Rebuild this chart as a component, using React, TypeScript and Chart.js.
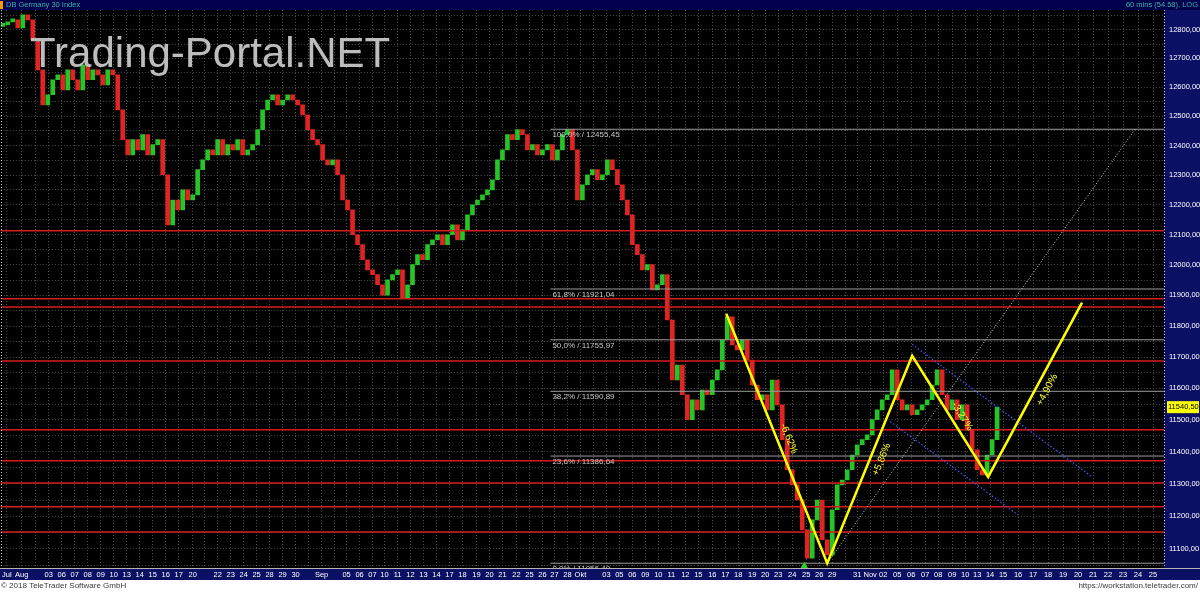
import { useEffect, useRef } from "react";
import { Chart, registerables } from "chart.js";

Chart.register(...registerables);

// DB Germany 30 Index, 60-minute closes (one bar per step), Jul–Nov 2018
const firstOpen = 12812;
const closes: number[] = [
  12818, 12828, 12835, 12807, 12853, 12835, 12765, 12660, 12539, 12574,
  12626, 12643, 12591, 12660, 12626, 12591, 12678, 12626, 12660, 12643,
  12608, 12660, 12643, 12522, 12420, 12368, 12420, 12385, 12437, 12368,
  12403, 12420, 12301, 12133, 12216, 12183, 12250, 12216, 12233, 12318,
  12351, 12385, 12368, 12420, 12368, 12403, 12385, 12420, 12368, 12385,
  12403, 12454, 12522, 12556, 12574, 12539, 12556, 12574, 12556, 12539,
  12505, 12454, 12420, 12403, 12351, 12334, 12351, 12301, 12216, 12183,
  12100, 12067, 12017, 11984, 11968, 11935, 11901, 11951, 11968, 11984,
  11891, 11935, 12001, 12034, 12017, 12067, 12083, 12100, 12067, 12100,
  12133, 12083, 12116, 12166, 12200, 12216, 12233, 12250, 12284, 12351,
  12385, 12437, 12420, 12454, 12437, 12385, 12403, 12368, 12385, 12403,
  12351, 12385, 12437, 12455, 12385, 12216, 12267, 12301, 12318, 12284,
  12301, 12351, 12318, 12267, 12216, 12166, 12067, 12034, 11984, 12001,
  11918, 11935, 11968, 11820, 11627, 11675, 11580, 11501, 11564, 11532,
  11595, 11580, 11627, 11659, 11756, 11830, 11739, 11723, 11756, 11691,
  11611, 11564, 11580, 11532, 11627, 11548, 11438, 11344, 11297, 11250,
  11158, 11072, 11189, 11250, 11128, 11082, 11220, 11297, 11312, 11344,
  11390, 11422, 11438, 11453, 11501, 11532, 11564, 11580, 11659, 11564,
  11532, 11548, 11517, 11532, 11548, 11564, 11611, 11659, 11580, 11532,
  11564, 11501, 11548, 11469, 11406, 11344, 11328, 11390, 11438, 11540.5,
];

// date axis: positions in bar units and their labels
const xTickPos = [
  0.8, 3.8, 6.6, 9.2, 11.8, 14.4, 17.0, 19.6, 22.2, 24.8, 27.4, 30.0, 32.6, 35.2, 38.0,
  40.4, 43.0, 45.6, 48.2, 50.8, 53.4, 56.0, 58.6, 61.2, 63.8, 66.4, 68.8, 71.4, 74.0,
  76.4, 79.0, 81.6, 84.2, 86.8, 89.4, 92.0, 94.8, 97.4, 100.0, 102.8, 105.4, 108.0,
  110.4, 113.0, 115.6, 118.2, 120.8, 123.4, 126.0, 128.6, 131.2, 133.8, 136.6, 139.2,
  142.0, 144.6, 147.2, 150.0, 152.6, 155.2, 158.0, 160.8, 163.4, 166.0, 168.6, 171.0,
  173.6, 176.2, 179.0, 181.8, 184.6, 187.2, 190.0, 192.6, 195.0, 197.6, 200.2, 203.2,
  206.2, 209.2, 212.2, 215.2, 218.2, 221.2, 224.2, 227.2, 230.2,
];
const xTickLabels = [
  "Jul", "Aug", "", "03", "06", "07", "08", "09", "10", "13", "14", "15", "16", "17", "20",
  "", "22", "23", "24", "25", "28", "29", "30", "", "Sep", "", "05", "06", "07",
  "10", "11", "12", "13", "14", "17", "18", "19", "20", "21", "22", "25", "26",
  "27", "28", "Okt", "", "03", "05", "06", "09", "10", "11", "12", "15",
  "16", "17", "18", "19", "20", "23", "24", "25", "26", "29", "", "31",
  "Nov", "02", "05", "06", "07", "08", "09", "10", "13", "14", "15", "16",
  "17", "18", "19", "20", "21", "22", "23", "24", "25",
];

// support / resistance levels
const levelLines = [12113, 11889, 11862, 11688, 11469, 11372, 11303, 11229, 11152];

// Fibonacci retracement of the 12455,45 -> 11056,49 leg
const fibLabels = ["0,0%", "23,6%", "38,2%", "50,0%", "61,8%", "100,0%"];
const fibValues = [11056.49, 11386.64, 11590.89, 11755.97, 11921.04, 12455.45];
const fibStartX = 109.6;

// swing projection
const swingX = [144.8, 165.0, 182.0, 197.2, 216.0];
const swingValues = [11840, 11056.5, 11704.5, 11321.5, 11876.5];

// trend line from the low
const trendX = [165.0, 226.6];
const trendValues = [11056.5, 12455.45];

// falling channel
const channelUpperX = [182.0, 218.0];
const channelUpperValues = [11741, 11322];
const channelLowerX = [177.6, 203.2];
const channelLowerValues = [11495, 11204];

const lowMarkerX = 160.4;
const lowMarkerValue = 11048;

const X_MIN = -0.4;
const X_MAX = 232.4;
const Y_MIN = 11042;
const Y_MAX = 12870;

const FONT = "'Liberation Sans', Arial, sans-serif";
const fmt = (v: number) => v.toFixed(2).replace(".", ",");
const pts = (xs: number[], ys: number[]) => xs.map((x, i) => ({ x, y: ys[i] }));

const opens = closes.map((_, i) => (i === 0 ? firstOpen : closes[i - 1]));

const decor = {
  id: "decor",
  beforeDraw(chart: any) {
    const { ctx, chartArea: a, width, height } = chart;
    ctx.save();
    ctx.fillStyle = "#000000";
    ctx.fillRect(0, 0, width, height);
    ctx.fillStyle = "#0b1064";
    ctx.fillRect(a.right, a.top, width - a.right, a.bottom + 12 - a.top);
    ctx.fillRect(0, a.bottom, a.right, 12);
    ctx.fillStyle = "#00004c";
    ctx.fillRect(0, 0, width, a.top);
    ctx.fillStyle = "#ffffff";
    ctx.fillRect(0, a.bottom + 12, width, height - a.bottom - 12);
    ctx.restore();
  },
  afterDatasetsDraw(chart: any) {
    const { ctx, chartArea: a, scales } = chart;
    const xs = scales.x;
    const ys = scales.y;
    ctx.save();
    ctx.beginPath();
    ctx.rect(a.left, a.top, a.right - a.left, a.bottom - a.top);
    ctx.clip();

    // fibonacci captions
    ctx.font = `8px ${FONT}`;
    ctx.fillStyle = "#c8c8c8";
    ctx.textAlign = "left";
    ctx.textBaseline = "top";
    fibValues.forEach((v, i) => {
      ctx.fillText(`${fibLabels[i]} / ${fmt(v)}`, xs.getPixelForValue(fibStartX) + 2, ys.getPixelForValue(v) + 2);
    });

    // swing percentages along each leg
    ctx.font = `10px ${FONT}`;
    ctx.fillStyle = "#ffff33";
    ctx.textAlign = "center";
    ctx.textBaseline = "middle";
    for (let i = 0; i < swingValues.length - 1; i++) {
      const x0 = xs.getPixelForValue(swingX[i]);
      const y0 = ys.getPixelForValue(swingValues[i]);
      const x1 = xs.getPixelForValue(swingX[i + 1]);
      const y1 = ys.getPixelForValue(swingValues[i + 1]);
      const pct = (swingValues[i + 1] / swingValues[i] - 1) * 100;
      const txt = (pct > 0 ? "+" : "") + pct.toFixed(2).replace(".", ",") + "%";
      ctx.save();
      ctx.translate((x0 + x1) / 2 + 12, (y0 + y1) / 2);
      ctx.rotate(Math.atan2(y1 - y0, x1 - x0));
      ctx.fillText(txt, 0, 0);
      ctx.restore();
    }

    // watermark
    ctx.font = `42px ${FONT}`;
    ctx.fillStyle = "#bdbdbd";
    ctx.textAlign = "left";
    ctx.textBaseline = "alphabetic";
    ctx.fillText("Trading-Portal.NET", 30, 67);
    ctx.restore();
  },
  afterDraw(chart: any) {
    const { ctx, chartArea: a, scales, width } = chart;
    const ys = scales.y;
    ctx.save();

    // frame lines
    ctx.strokeStyle = "#b4b4b4";
    ctx.lineWidth = 1;
    ctx.beginPath();
    ctx.moveTo(0, a.bottom + 0.5);
    ctx.lineTo(width, a.bottom + 0.5);
    ctx.stroke();
    ctx.setLineDash([1, 2]);
    ctx.strokeStyle = "#d0d0d0";
    ctx.beginPath();
    ctx.moveTo(a.right + 0.5, a.top);
    ctx.lineTo(a.right + 0.5, a.bottom);
    ctx.moveTo(1.5, a.top);
    ctx.lineTo(1.5, a.bottom);
    ctx.stroke();
    ctx.setLineDash([]);

    // title bar
    ctx.fillStyle = "#ff9a00";
    ctx.fillRect(0, 1, 3, a.top - 2);
    ctx.font = `7.5px ${FONT}`;
    ctx.fillStyle = "#3cb4ac";
    ctx.textBaseline = "middle";
    ctx.textAlign = "left";
    ctx.fillText("DB Germany 30 Index", 6, a.top / 2);
    ctx.textAlign = "right";
    ctx.fillText("60 mins (54.58), LOG", width - 2, a.top / 2);

    // last price tag
    const last = closes[closes.length - 1];
    const yp = ys.getPixelForValue(last);
    ctx.fillStyle = "#ffff00";
    ctx.fillRect(a.right + 3, yp - 6, width - a.right - 4, 12);
    ctx.fillStyle = "#000000";
    ctx.textAlign = "left";
    ctx.font = `7.5px ${FONT}`;
    ctx.fillText(fmt(last), a.right + 4, yp);

    // footer
    ctx.fillStyle = "#3a3a3a";
    ctx.font = `8px ${FONT}`;
    const fy = a.bottom + 18;
    ctx.textAlign = "left";
    ctx.fillText("© 2018 TeleTrader Software GmbH", 1, fy);
    ctx.textAlign = "right";
    ctx.fillText("https://workstation.teletrader.com/", width - 2, fy);
    ctx.restore();
  },
};

export default function App() {
  const ref = useRef<HTMLCanvasElement>(null);

  useEffect(() => {
    document.body.style.margin = "0";
    const line = (data: any[], color: string, width: number, dash: number[], order: number) => ({
      type: "line" as const,
      data,
      borderColor: color,
      borderWidth: width,
      borderDash: dash,
      pointRadius: 0,
      tension: 0,
      order,
    });

    const chart = new Chart(ref.current as HTMLCanvasElement, {
      type: "bar",
      data: {
        datasets: [
          {
            type: "bar",
            data: closes.map((c, i) => ({ x: i, y: [opens[i], c] })) as any,
            backgroundColor: closes.map((c, i) => (c >= opens[i] ? "#26c426" : "#e02424")),
            barThickness: 4,
            minBarLength: 3,
            grouped: false,
            order: 10,
          },
          ...levelLines.map((v) => line([{ x: X_MIN, y: v }, { x: X_MAX, y: v }], "#d61c1c", 1.5, [], 6)),
          ...fibValues.map((v) => line([{ x: fibStartX, y: v }, { x: X_MAX, y: v }], "#9c9c9c", 1, [], 5)),
          line(pts(trendX, trendValues), "#d4d4d4", 1, [1, 2], 4),
          line(pts(channelUpperX, channelUpperValues), "#3a5cff", 1.2, [1.5, 2], 3),
          line(pts(channelLowerX, channelLowerValues), "#3a5cff", 1.2, [1.5, 2], 3),
          line(pts(swingX, swingValues), "#ffff00", 2.5, [], 1),
          {
            type: "line",
            data: [{ x: lowMarkerX, y: lowMarkerValue }],
            showLine: false,
            pointStyle: "triangle",
            pointRadius: 3.5,
            backgroundColor: "#2bd22b",
            borderColor: "#2bd22b",
            order: 0,
          },
        ] as any,
      },
      options: {
        animation: false,
        responsive: false,
        devicePixelRatio: 1,
        layout: { padding: { top: 10, bottom: 12, left: 0, right: 0 }, autoPadding: false },
        plugins: { legend: { display: false }, tooltip: { enabled: false } },
        scales: {
          x: {
            type: "linear",
            min: X_MIN,
            max: X_MAX,
            offset: false,
            position: "bottom",
            afterBuildTicks: (s: any) => {
              s.ticks = xTickPos.map((v) => ({ value: v }));
            },
            afterFit: (s: any) => {
              s.height = 12;
            },
            ticks: {
              autoSkip: false,
              maxRotation: 0,
              minRotation: 0,
              color: "#ffffff",
              font: { family: FONT, size: 7.5 },
              padding: 2,
              callback: (_v: any, i: number) => xTickLabels[i] ?? "",
            },
            grid: { color: "#4c4c4c", drawTicks: false, lineWidth: 1, offset: false },
            border: { display: false, dash: [1, 2] },
          },
          y: {
            type: "logarithmic",
            position: "right",
            min: Y_MIN,
            max: Y_MAX,
            afterBuildTicks: (s: any) => {
              const t: { value: number }[] = [];
              for (let v = 11050; v <= 12850; v += 50) t.push({ value: v });
              s.ticks = t;
            },
            afterFit: (s: any) => {
              s.width = 36;
            },
            ticks: {
              autoSkip: false,
              color: "#ffffff",
              font: { family: FONT, size: 7.5 },
              padding: 5,
              callback: (v: any) => (Math.round(Number(v)) % 100 === 0 ? fmt(Number(v)) : ""),
            },
            grid: { color: "#4c4c4c", drawTicks: false, lineWidth: 1 },
            border: { display: false, dash: [1, 2] },
          },
        },
      } as any,
      plugins: [decor],
    });
    return () => chart.destroy();
  }, []);

  return (
    <div style={{ width: 1200, height: 592 }}>
      <canvas ref={ref} width={1200} height={592} style={{ display: "block" }} />
    </div>
  );
}
